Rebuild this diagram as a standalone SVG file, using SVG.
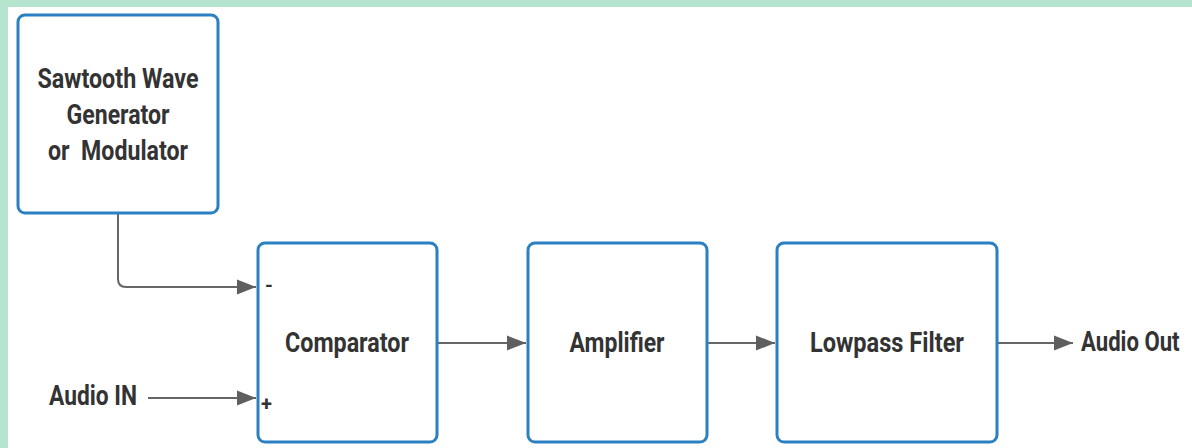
<svg xmlns="http://www.w3.org/2000/svg" width="1192" height="448" viewBox="0 0 1192 448">
  <style>
    .box { fill: #ffffff; stroke: #2b80c1; stroke-width: 3; }
    .lbl { font-family: Roboto, "Liberation Sans", sans-serif; font-weight: 700; font-size: 27px; fill: #333333; }
    .sign { font-family: Roboto, "Liberation Sans", sans-serif; font-weight: 700; font-size: 20px; fill: #333333; }
    .wire { fill: none; stroke: #666666; stroke-width: 2; }
  </style>
  <defs>
    <marker id="arrow" markerUnits="userSpaceOnUse" markerWidth="20" markerHeight="18" refX="19" refY="9" orient="auto">
      <path d="M0,1.5 L19,9 L0,16.5 Z" fill="#5f5f5f"/>
    </marker>
  </defs>

  <!-- page backdrop -->
  <rect x="0" y="0" width="1192" height="448" fill="#b5e5cf"/>
  <rect x="8" y="7" width="1184" height="441" fill="#ffffff"/>

  <!-- connectors -->
  <g id="connectors">
    <path class="wire" d="M118,214 V279 Q118,287 126,287 H256" marker-end="url(#arrow)"/>
    <path class="wire" d="M148,398 H256" marker-end="url(#arrow)"/>
    <path class="wire" d="M438,343 H526" marker-end="url(#arrow)"/>
    <path class="wire" d="M708,343 H775" marker-end="url(#arrow)"/>
    <path class="wire" d="M998,343 H1073" marker-end="url(#arrow)"/>
  </g>

  <g id="sawtooth">
    <rect class="box" x="18" y="15" width="200" height="198" rx="7"/>
    <text class="lbl" x="118" y="88" text-anchor="middle" textLength="161" lengthAdjust="spacingAndGlyphs">Sawtooth Wave</text>
    <text class="lbl" x="118" y="124" text-anchor="middle" textLength="103" lengthAdjust="spacingAndGlyphs">Generator</text>
    <text class="lbl" x="118" y="160" text-anchor="middle" textLength="140" lengthAdjust="spacingAndGlyphs" xml:space="preserve">or  Modulator</text>
  </g>

  <g id="comparator">
    <rect class="box" x="258" y="243" width="179" height="199" rx="7"/>
    <text class="lbl" x="347" y="352" text-anchor="middle" textLength="124" lengthAdjust="spacingAndGlyphs">Comparator</text>
    <text class="sign" x="265" y="292">-</text>
    <text class="sign" x="261" y="411">+</text>
  </g>

  <g id="amplifier">
    <rect class="box" x="528" y="243" width="179" height="199" rx="7"/>
    <text class="lbl" x="617" y="352" text-anchor="middle" textLength="95" lengthAdjust="spacingAndGlyphs">Amplifier</text>
  </g>

  <g id="lowpass">
    <rect class="box" x="777" y="243" width="220" height="199" rx="7"/>
    <text class="lbl" x="887" y="352" text-anchor="middle" textLength="154" lengthAdjust="spacingAndGlyphs">Lowpass Filter</text>
  </g>

  <g id="audio-in">
    <text class="lbl" x="49" y="405" textLength="88" lengthAdjust="spacingAndGlyphs">Audio IN</text>
  </g>

  <g id="audio-out" transform="translate(1081,351) scale(0.82,1)">
    <text class="lbl" x="0" y="0">Audio Out</text>
  </g>
</svg>
